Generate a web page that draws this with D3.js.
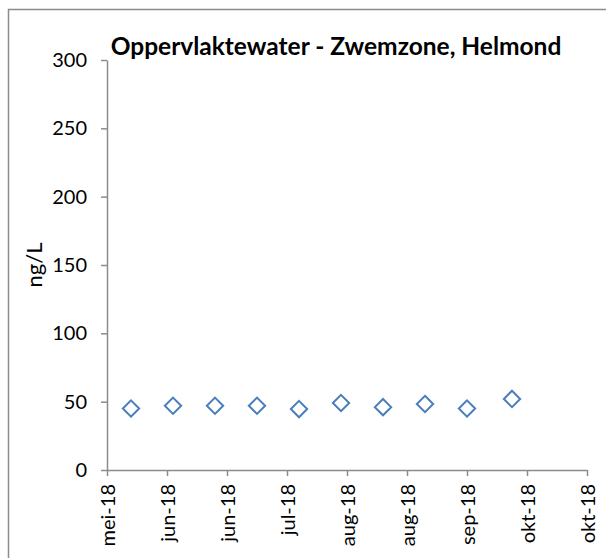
<!DOCTYPE html>
<html>
<head>
<meta charset="utf-8">
<script src="https://cdn.jsdelivr.net/npm/d3@7"></script>
<style>
  body { margin: 0; background: #fff; }
  svg { display: block; font-family: Lato, "Open Sans", sans-serif; }
</style>
</head>
<body>
<div id="chart"></div>
<script>
// sample dates and concentrations (ng/L)
const sampleDates = ['2018-05-23', '2018-06-06', '2018-06-20', '2018-07-04', '2018-07-18',
                     '2018-08-01', '2018-08-15', '2018-08-29', '2018-09-12', '2018-09-27'];
const sampleValues = [45, 47, 47, 47, 44.6, 49, 46, 48.3, 45, 52];
const yTicks = [0, 50, 100, 150, 200, 250, 300];
const xStart = '2018-05-15';
const xStepDays = 20;
const xTickCount = 9;

const width = 606, height = 558;
const margin = { top: 60, right: 19, bottom: 88, left: 107 };

const parse = d3.timeParse('%Y-%m-%d');
const nl = d3.timeFormatLocale({
  dateTime: '%a %e %B %Y %X', date: '%d-%m-%Y', time: '%H:%M:%S',
  periods: ['AM', 'PM'],
  days: ['zondag', 'maandag', 'dinsdag', 'woensdag', 'donderdag', 'vrijdag', 'zaterdag'],
  shortDays: ['zo', 'ma', 'di', 'wo', 'do', 'vr', 'za'],
  months: ['januari', 'februari', 'maart', 'april', 'mei', 'juni', 'juli', 'augustus', 'september', 'oktober', 'november', 'december'],
  shortMonths: ['jan', 'feb', 'mrt', 'apr', 'mei', 'jun', 'jul', 'aug', 'sep', 'okt', 'nov', 'dec']
});
const fmt = nl.format('%b-%y');

const data = sampleDates.map((d, i) => ({ date: parse(d), value: sampleValues[i] }));
const xTickDates = d3.range(xTickCount).map(i => d3.timeDay.offset(parse(xStart), i * xStepDays));

const svg = d3.select('#chart').append('svg')
    .attr('width', width)
    .attr('height', height);

// outer chart border
svg.append('rect')
    .attr('x', 8.5).attr('y', 9.5)
    .attr('width', width).attr('height', height)
    .attr('fill', 'none')
    .attr('stroke', '#8c8c8c')
    .attr('stroke-width', 1.5);

const x = d3.scaleTime()
    .domain([xTickDates[0], xTickDates[xTickDates.length - 1]])
    .range([margin.left, width - margin.right]);
const y = d3.scaleLinear()
    .domain([0, 300])
    .range([height - margin.bottom, margin.top]);

const yAxis = svg.append('g')
    .attr('transform', 'translate(' + margin.left + ',0)')
    .call(d3.axisLeft(y).tickValues(yTicks).tickSize(6).tickSizeOuter(0));

const xAxis = svg.append('g')
    .attr('transform', 'translate(0,' + (height - margin.bottom) + ')')
    .call(d3.axisBottom(x).tickValues(xTickDates).tickFormat(fmt).tickSize(6).tickSizeOuter(0));

[yAxis, xAxis].forEach(g => {
  g.select('.domain').attr('stroke', '#8c8c8c').attr('stroke-width', 1.5);
  g.selectAll('.tick line').attr('stroke', '#8c8c8c').attr('stroke-width', 1.5);
  g.selectAll('text').attr('fill', '#000').style('font-size', '20px').style('font-family', 'Lato, sans-serif');
});

xAxis.selectAll('text')
    .attr('transform', 'rotate(-90)')
    .attr('x', -14)
    .attr('y', 0)
    .attr('dy', '0.35em')
    .style('text-anchor', 'end');

yAxis.selectAll('text').attr('x', -20);

// y axis label
svg.append('text')
    .attr('transform', 'translate(42,' + ((margin.top + height - margin.bottom) / 2) + ') rotate(-90)')
    .attr('text-anchor', 'middle')
    .style('font-size', '22px')
    .text('ng/L');

// title
svg.append('text')
    .attr('x', 336)
    .attr('y', 55)
    .attr('text-anchor', 'middle')
    .style('font-size', '24.5px')
    .style('font-weight', 'bold')
    .text('Oppervlaktewater - Zwemzone, Helmond');

// markers
svg.selectAll('.pt')
    .data(data)
  .enter().append('path')
    .attr('class', 'pt')
    .attr('d', d3.symbol().type(d3.symbolDiamond2).size(170))
    .attr('transform', d => 'translate(' + x(d.date) + ',' + y(d.value) + ')')
    .attr('fill', 'none')
    .attr('stroke', '#4a7ebb')
    .attr('stroke-width', 2);
</script>
</body>
</html>
